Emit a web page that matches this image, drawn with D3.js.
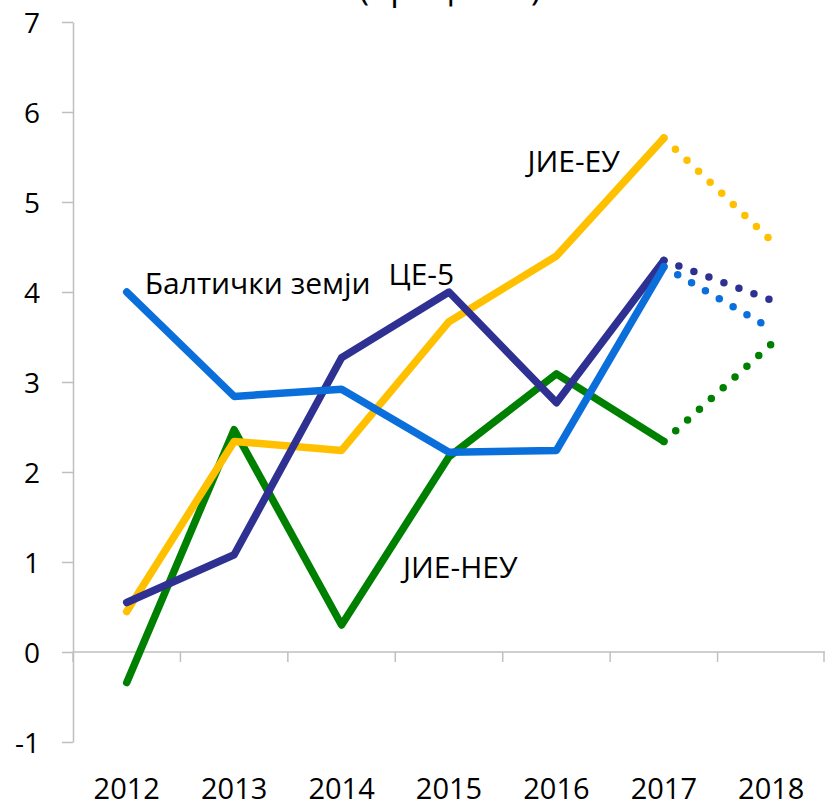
<!DOCTYPE html>
<html>
<head>
<meta charset="utf-8">
<script src="https://cdn.jsdelivr.net/npm/d3@7"></script>
<style>
  body { margin: 0; background: #fff; }
  text { font-family: "Open Sans", sans-serif; }
</style>
</head>
<body>
<div class="chart"></div>
<script>
// data
var years = ["2012", "2013", "2014", "2015", "2016", "2017", "2018"];
var yTicks = [-1, 0, 1, 2, 3, 4, 5, 6, 7];
var baltic   = [4.00, 2.84, 2.92, 2.22, 2.24, 4.28, 3.59];
var ce5      = [0.55, 1.08, 3.27, 4.00, 2.77, 4.35, 3.91];
var seeEu    = [0.45, 2.34, 2.24, 3.67, 4.40, 5.71, 4.57];
var seeNonEu = [-0.34, 2.47, 0.30, 2.17, 3.09, 2.34, 3.42];

var series = [
  { name: "ЈИЕ-НЕУ", values: seeNonEu, color: "#008000" },
  { name: "ЈИЕ-ЕУ", values: seeEu, color: "#FFC000" },
  { name: "ЦЕ-5", values: ce5, color: "#2E3192" },
  { name: "Балтички земји", values: baltic, color: "#0A6FDB" }
];

// label anchors: year, pixel offset, value of baseline
var labels = [
  { text: "Балтички земји", year: "2012", dx: 18, v: 3.98 },
  { text: "ЦЕ-5", year: "2014", dx: 47, v: 4.08 },
  { text: "ЈИЕ-ЕУ", year: "2016", dx: -29, v: 5.33 },
  { text: "ЈИЕ-НЕУ", year: "2015", dx: -46, v: 0.82 }
];

var width = 825, height = 804;
var axisColor = "#BFBFBF";

var svg = d3.select(".chart").append("svg")
  .attr("width", width)
  .attr("height", height);

var x = d3.scaleBand().domain(years).range([73, 825]);
var y = d3.scaleLinear().domain([-1, 7]).range([742, 22]);
function cx(d) { return x(d) + x.bandwidth() / 2; }

// title, mostly cut off at the top
svg.append("text")
  .attr("x", 450).attr("y", 0)
  .attr("text-anchor", "middle")
  .attr("font-size", 34)
  .text("(проценти)");

// y axis
var yAxis = svg.append("g")
  .attr("transform", "translate(73,0)")
  .call(d3.axisLeft(y).tickValues(yTicks).tickSize(11).tickSizeOuter(0).tickPadding(22)
    .tickFormat(function(d) { return String(d); }));
yAxis.select(".domain").attr("stroke", axisColor).attr("stroke-width", 1.5);
yAxis.selectAll(".tick line").attr("stroke", axisColor).attr("stroke-width", 1.5);
yAxis.selectAll(".tick text")
  .attr("font-family", "Open Sans")
  .attr("font-size", 28)
  .attr("fill", "#000")
  .attr("dy", "0.36em");

// x axis at zero, ticks on band edges, labels at bottom
var y0 = y(0);
svg.append("line")
  .attr("x1", 73).attr("x2", 825)
  .attr("y1", y0).attr("y2", y0)
  .attr("stroke", axisColor).attr("stroke-width", 1.5);

var edges = years.map(function(d) { return x(d); }).concat([x.range()[1] - 1]);
svg.selectAll(".xtick")
  .data(edges)
  .enter().append("line")
  .attr("class", "xtick")
  .attr("x1", function(d) { return d; })
  .attr("x2", function(d) { return d; })
  .attr("y1", y0).attr("y2", y0 + 10)
  .attr("stroke", axisColor).attr("stroke-width", 1.5);

svg.selectAll(".xlabel")
  .data(years)
  .enter().append("text")
  .attr("class", "xlabel")
  .attr("x", cx)
  .attr("y", 799)
  .attr("text-anchor", "middle")
  .attr("font-size", 29)
  .text(function(d) { return d; });

// lines: solid up to 2017, dotted to 2018
var line = d3.line()
  .x(function(d) { return cx(d.year); })
  .y(function(d) { return y(d.v); });

series.forEach(function(s) {
  var pts = s.values.map(function(v, i) { return { year: years[i], v: v }; });
  svg.append("path")
    .datum(pts.slice(0, 6))
    .attr("d", line)
    .attr("fill", "none")
    .attr("stroke", s.color)
    .attr("stroke-width", 7.5)
    .attr("stroke-linecap", "round")
    .attr("stroke-linejoin", "round");
  svg.append("path")
    .datum(pts.slice(5))
    .attr("d", line)
    .attr("fill", "none")
    .attr("stroke", s.color)
    .attr("stroke-width", 7.5)
    .attr("stroke-linecap", "round")
    .attr("stroke-dasharray", "0 16");
});

svg.selectAll(".lbl")
  .data(labels)
  .enter().append("text")
  .attr("class", "lbl")
  .attr("x", function(d) { return cx(d.year) + d.dx; })
  .attr("y", function(d) { return y(d.v); })
  .attr("font-size", 30)
  .attr("fill", "#000")
  .text(function(d) { return d.text; });
</script>
</body>
</html>
